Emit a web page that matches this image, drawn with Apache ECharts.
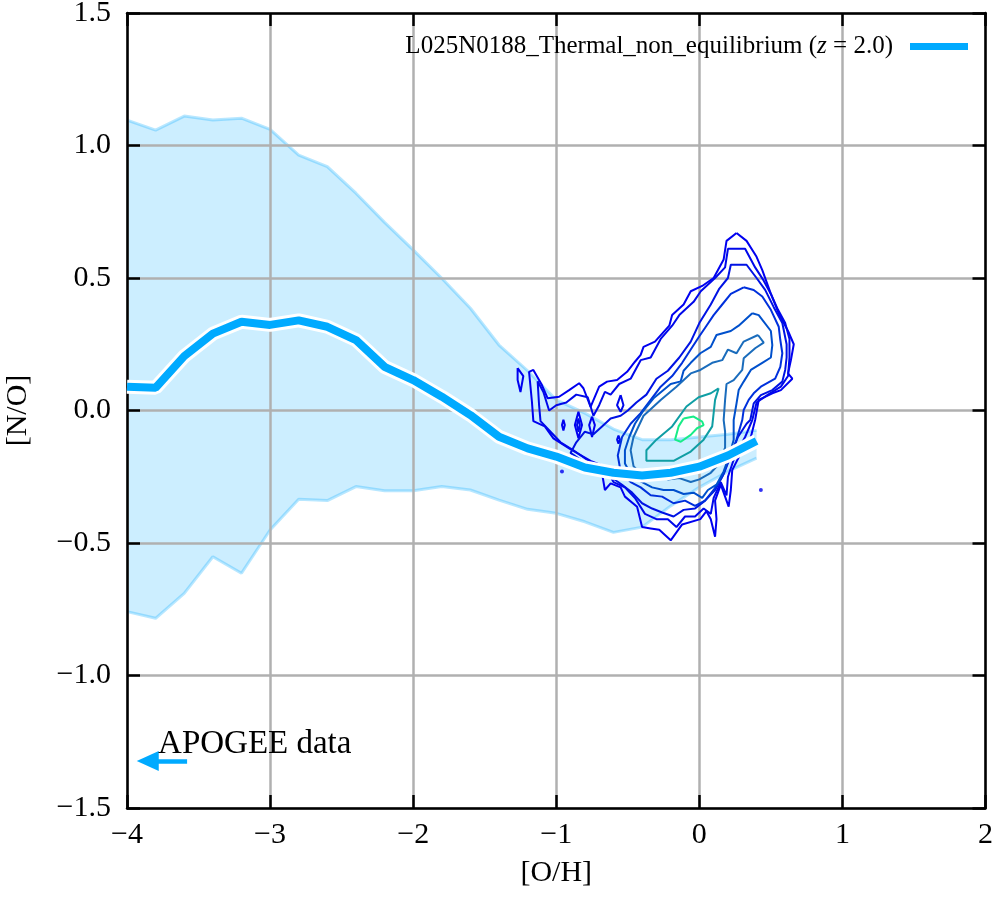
<!DOCTYPE html>
<html><head><meta charset="utf-8">
<script src="https://cdn.jsdelivr.net/npm/echarts@6/dist/echarts.min.js"></script>
<style>html,body{margin:0;padding:0;background:#fff}#c{width:996px;height:900px}</style>
</head><body><div id="c"></div>
<script>
// ---- data ----
const xTicks = [-4, -3, -2, -1, 0, 1, 2];
const yTicks = [-1.5, -1.0, -0.5, 0.0, 0.5, 1.0, 1.5];
const binX = [-4.0,-3.8,-3.6,-3.4,-3.2,-3.0,-2.8,-2.6,-2.4,-2.2,-2.0,-1.8,-1.6,-1.4,-1.2,-1.0,-0.8,-0.6,-0.4,-0.2,0.0,0.2,0.4];
const median = [0.09,0.086,0.205,0.29,0.335,0.323,0.34,0.316,0.266,0.165,0.115,0.052,-0.017,-0.099,-0.143,-0.174,-0.215,-0.235,-0.245,-0.235,-0.212,-0.17,-0.115];
const upper = [1.096,1.058,1.111,1.096,1.103,1.061,0.964,0.920,0.82,0.71,0.606,0.499,0.386,0.247,0.15,0.04,-0.01,-0.07,-0.11,-0.11,-0.10,-0.09,-0.075];
const lower = [-0.759,-0.784,-0.69,-0.552,-0.614,-0.451,-0.335,-0.34,-0.287,-0.303,-0.303,-0.287,-0.30,-0.338,-0.373,-0.388,-0.42,-0.46,-0.44,-0.36,-0.29,-0.23,-0.18];

const contour1 = [[0.26,0.67],[0.19,0.64],[0.17,0.57],[0.10,0.50],[0.02,0.47],[-0.06,0.45],[-0.11,0.40],[-0.19,0.36],[-0.21,0.32],[-0.31,0.26],[-0.39,0.24],[-0.41,0.21],[-0.45,0.184],[-0.505,0.146],[-0.575,0.115],[-0.645,0.109],[-0.70,0.09],[-0.76,0.014],[-0.81,0.084],[-0.84,0.103],[-0.91,0.077],[-0.98,0.052],[-1.06,0.046],[-1.10,0.096],[-1.16,0.153],[-1.19,0.146],[-1.17,0.033],[-1.16,-0.04],[-1.08,-0.06],[-1.02,-0.105],[-0.91,-0.143],[-0.83,-0.168],[-0.76,-0.19],[-0.69,-0.205],[-0.66,-0.30],[-0.62,-0.275],[-0.55,-0.29],[-0.52,-0.325],[-0.435,-0.363],[-0.40,-0.44],[-0.34,-0.445],[-0.28,-0.45],[-0.20,-0.49],[-0.12,-0.43],[0.007,-0.41],[0.05,-0.38],[0.08,-0.41],[0.11,-0.476],[0.12,-0.41],[0.11,-0.34],[0.15,-0.28],[0.205,-0.363],[0.22,-0.30],[0.23,-0.225],[0.30,-0.15],[0.36,-0.10],[0.39,-0.036],[0.415,0.04],[0.51,0.065],[0.57,0.077],[0.65,0.12],[0.62,0.14],[0.64,0.19],[0.66,0.25],[0.62,0.30],[0.56,0.36],[0.50,0.44],[0.44,0.53],[0.40,0.58],[0.33,0.64],[0.26,0.67]];
const contour2 = [[0.26,0.61],[0.20,0.61],[0.18,0.54],[0.11,0.50],[0.01,0.45],[-0.04,0.41],[-0.14,0.36],[-0.19,0.32],[-0.27,0.27],[-0.34,0.20],[-0.41,0.19],[-0.48,0.12],[-0.56,0.10],[-0.62,0.06],[-0.66,0.07],[-0.70,0.02],[-0.74,-0.02],[-0.78,0.05],[-0.86,0.06],[-0.93,0.03],[-1.00,0.02],[-1.05,0.0],[-1.09,0.07],[-1.13,0.11],[-1.12,0.02],[-1.11,-0.04],[-1.04,-0.08],[-0.97,-0.12],[-0.88,-0.15],[-0.80,-0.18],[-0.72,-0.21],[-0.64,-0.23],[-0.60,-0.27],[-0.52,-0.29],[-0.45,-0.33],[-0.38,-0.39],[-0.30,-0.41],[-0.22,-0.41],[-0.16,-0.44],[-0.10,-0.40],[-0.03,-0.40],[0.03,-0.37],[0.08,-0.39],[0.10,-0.33],[0.15,-0.27],[0.19,-0.32],[0.20,-0.25],[0.25,-0.17],[0.32,-0.10],[0.37,-0.036],[0.40,0.03],[0.48,0.06],[0.57,0.09],[0.62,0.13],[0.63,0.20],[0.63,0.27],[0.60,0.33],[0.55,0.38],[0.50,0.44],[0.45,0.49],[0.39,0.54],[0.32,0.61],[0.26,0.61]];
const contour3 = [[0.275,0.55],[0.22,0.55],[0.20,0.50],[0.14,0.46],[0.08,0.40],[0.0,0.33],[-0.06,0.26],[-0.14,0.20],[-0.22,0.15],[-0.30,0.12],[-0.37,0.06],[-0.44,0.03],[-0.50,0.0],[-0.55,-0.02],[-0.62,-0.03],[-0.68,-0.06],[-0.74,-0.09],[-0.80,-0.08],[-0.86,-0.12],[-0.90,-0.16],[-0.82,-0.19],[-0.72,-0.22],[-0.62,-0.25],[-0.54,-0.28],[-0.47,-0.31],[-0.40,-0.35],[-0.33,-0.37],[-0.26,-0.385],[-0.18,-0.40],[-0.11,-0.375],[-0.03,-0.37],[0.04,-0.34],[0.11,-0.30],[0.17,-0.24],[0.22,-0.17],[0.27,-0.10],[0.33,-0.05],[0.356,-0.036],[0.38,0.027],[0.43,0.058],[0.51,0.077],[0.58,0.109],[0.60,0.153],[0.61,0.20],[0.61,0.25],[0.58,0.33],[0.52,0.39],[0.46,0.455],[0.40,0.50],[0.33,0.55],[0.275,0.55]];
const contour4 = [[0.31,0.465],[0.22,0.44],[0.16,0.40],[0.10,0.36],[0.05,0.32],[0.0,0.28],[-0.06,0.23],[-0.12,0.18],[-0.19,0.13],[-0.27,0.09],[-0.34,0.04],[-0.41,-0.01],[-0.48,-0.05],[-0.54,-0.10],[-0.57,-0.17],[-0.55,-0.23],[-0.48,-0.27],[-0.41,-0.29],[-0.34,-0.32],[-0.26,-0.325],[-0.18,-0.35],[-0.10,-0.34],[-0.03,-0.36],[0.04,-0.34],[0.10,-0.30],[0.16,-0.25],[0.21,-0.18],[0.26,-0.11],[0.30,-0.036],[0.31,0.002],[0.345,0.04],[0.38,0.065],[0.43,0.09],[0.53,0.12],[0.566,0.165],[0.58,0.216],[0.566,0.266],[0.555,0.316],[0.50,0.38],[0.44,0.43],[0.38,0.455],[0.31,0.465]];
const contour5 = [[0.37,0.367],[0.275,0.32],[0.22,0.30],[0.12,0.285],[0.08,0.24],[0.007,0.216],[-0.06,0.18],[-0.11,0.15],[-0.13,0.11],[-0.20,0.10],[-0.32,0.046],[-0.39,0.0],[-0.45,-0.05],[-0.49,-0.10],[-0.52,-0.15],[-0.52,-0.20],[-0.47,-0.25],[-0.40,-0.27],[-0.33,-0.29],[-0.25,-0.30],[-0.18,-0.30],[-0.11,-0.315],[-0.04,-0.31],[0.02,-0.33],[0.06,-0.30],[0.12,-0.28],[0.17,-0.23],[0.21,-0.17],[0.24,-0.11],[0.24,-0.036],[0.26,0.027],[0.275,0.077],[0.31,0.109],[0.36,0.153],[0.44,0.18],[0.50,0.20],[0.51,0.247],[0.50,0.30],[0.415,0.36],[0.37,0.367]];
const contour6 = [[0.41,0.285],[0.31,0.26],[0.26,0.216],[0.20,0.23],[0.16,0.19],[0.09,0.18],[0.007,0.153],[-0.06,0.14],[-0.16,0.09],[-0.27,0.04],[-0.39,-0.02],[-0.46,-0.10],[-0.48,-0.15],[-0.46,-0.21],[-0.40,-0.245],[-0.30,-0.25],[-0.22,-0.26],[-0.14,-0.255],[-0.06,-0.27],[0.0,-0.26],[0.08,-0.235],[0.14,-0.20],[0.18,-0.14],[0.18,-0.08],[0.17,-0.036],[0.18,0.04],[0.19,0.10],[0.24,0.115],[0.30,0.153],[0.31,0.197],[0.39,0.235],[0.45,0.256],[0.41,0.285]];
const contour7 = [[0.135,0.084],[0.11,0.04],[0.09,-0.06],[0.03,-0.11],[-0.06,-0.155],[-0.18,-0.19],[-0.27,-0.19],[-0.37,-0.19],[-0.37,-0.15],[-0.30,-0.11],[-0.19,-0.06],[-0.09,0.015],[-0.005,0.05],[0.08,0.065],[0.135,0.084]];
const contour8 = [[-0.11,-0.03],[-0.04,-0.023],[0.02,-0.042],[0.03,-0.055],[-0.016,-0.067],[-0.06,-0.092],[-0.13,-0.118],[-0.17,-0.11],[-0.145,-0.06],[-0.11,-0.03]];
const islandA = [[-1.27,0.16],[-1.23,0.13],[-1.25,0.07],[-1.27,0.115],[-1.27,0.16]];
const islandB = [[-0.845,-0.005],[-0.82,-0.055],[-0.845,-0.105],[-0.87,-0.055],[-0.845,-0.005]];
const islandC = [[-0.845,-0.03],[-0.835,-0.055],[-0.845,-0.08],[-0.855,-0.055],[-0.845,-0.03]];
const islandD = [[-0.75,-0.023],[-0.73,-0.055],[-0.75,-0.10],[-0.77,-0.055],[-0.75,-0.023]];
const islandE = [[-0.95,-0.035],[-0.94,-0.055],[-0.95,-0.075],[-0.96,-0.055],[-0.95,-0.035]];
const islandF = [[-0.55,0.058],[-0.53,0.02],[-0.55,-0.005],[-0.575,0.02],[-0.55,0.058]];
const islandG = [[-0.565,-0.095],[-0.555,-0.11],[-0.565,-0.125],[-0.575,-0.11],[-0.565,-0.095]];
const dots = [[-0.96,-0.23],[0.43,-0.30]];
const contourColors = ['#0000f0','#0008ea','#0012e4','#0030dc','#0050cc','#1a6cbc','#0f9ea4','#18ec88'];
const arrowFrom = [-3.58, -1.323];
const arrowTo = [-3.855, -1.323];
const apogeeLabelPos = [-3.783, -1.258];

const MED = 'L025N0188_Thermal_non_equilibrium (z = 2.0)';
const SERIF = 'Liberation Serif';

const fmtMinus = (v, d) => (v < 0 ? '\u2212' : '') + Math.abs(v).toFixed(d);

function contourSeries(data, color) {
  return { type: 'line', data: data, symbol: 'none', silent: true, z: 3,
    lineStyle: { width: 2, color: color }, itemStyle: { color: color } };
}

const chart = echarts.init(document.getElementById('c'));
const axisCommon = {
  type: 'value', axisLine: { show: true, onZero: false, lineStyle: { color: '#000', width: 2.5 } },
  axisTick: { show: true, inside: true, length: 13, lineStyle: { color: '#000', width: 2.5 } }
};
const option = {
  animation: false,
  backgroundColor: '#fff',
  grid: { left: 127, right: 10.5, top: 13, bottom: 92, containLabel: false, outerBoundsMode: 'none' },
  xAxis: [
    Object.assign({}, axisCommon, { min: xTicks[0], max: xTicks[xTicks.length - 1], interval: 1, position: 'bottom',
      name: '[O/H]', nameLocation: 'middle', nameGap: 50,
      nameTextStyle: { fontFamily: SERIF, fontSize: 30, color: '#000' },
      axisLabel: { margin: 12, fontFamily: SERIF, fontSize: 30, color: '#000', formatter: v => fmtMinus(v, 0) },
      splitLine: { show: true, lineStyle: { color: '#b0b0b0', width: 2.5 } } }),
    Object.assign({}, axisCommon, { min: xTicks[0], max: xTicks[xTicks.length - 1], interval: 1, position: 'top',
      axisLabel: { show: false }, splitLine: { show: false } })
  ],
  yAxis: [
    Object.assign({}, axisCommon, { min: yTicks[0], max: yTicks[yTicks.length - 1], interval: 0.5, position: 'left',
      name: '[N/O]', nameLocation: 'middle', nameGap: 94, nameRotate: 90,
      nameTextStyle: { fontFamily: SERIF, fontSize: 30, color: '#000' },
      axisLabel: { margin: 16, fontFamily: SERIF, fontSize: 30, color: '#000', formatter: v => fmtMinus(v, 1) },
      splitLine: { show: true, lineStyle: { color: '#b0b0b0', width: 2.5 } } }),
    Object.assign({}, axisCommon, { min: yTicks[0], max: yTicks[yTicks.length - 1], interval: 0.5, position: 'right',
      axisLabel: { show: false }, splitLine: { show: false } })
  ],
  legend: {
    data: [{ name: MED, icon: 'rect' }],
    right: 28, top: 34, padding: 0, align: 'right', selectedMode: false,
    itemWidth: 58, itemHeight: 7,
    formatter: () => '{a|L025N0188_Thermal_non_equilibrium (}{i|z}{b| = 2.0)}',
    textStyle: { rich: {
      a: { fontFamily: SERIF, fontSize: 25, color: '#000', lineHeight: 28 },
      i: { fontFamily: SERIF, fontSize: 25, fontStyle: 'italic', color: '#000', lineHeight: 28 },
      b: { fontFamily: SERIF, fontSize: 25, color: '#000', lineHeight: 28, padding: [0, 12, 0, 0] }
    } }
  },
  series: [
    { type: 'custom', name: 'band', z: -1, silent: true, data: [[binX[0], upper[0]]],
      encode: { x: 0, y: 1 },
      renderItem: (params, api) => {
        const pts = [];
        binX.forEach((x, i) => pts.push(api.coord([x, upper[i]])));
        for (let i = binX.length - 1; i >= 0; i--) pts.push(api.coord([binX[i], lower[i]]));
        return { type: 'polygon', shape: { points: pts }, style: { fill: 'rgba(0,170,255,0.2)' } };
      } },
    { type: 'line', name: 'bandUpper', z: -1, silent: true, symbol: 'none',
      data: binX.map((x, i) => [x, upper[i]]), lineStyle: { color: 'rgba(0,170,255,0.28)', width: 3 } },
    { type: 'line', name: 'bandLower', z: -1, silent: true, symbol: 'none',
      data: binX.map((x, i) => [x, lower[i]]), lineStyle: { color: 'rgba(0,170,255,0.28)', width: 3 } },
    contourSeries(contour1, contourColors[0]),
    contourSeries(islandA, contourColors[0]),
    contourSeries(islandB, contourColors[0]),
    contourSeries(islandC, contourColors[1]),
    contourSeries(islandD, contourColors[0]),
    contourSeries(islandE, contourColors[0]),
    contourSeries(islandF, contourColors[1]),
    contourSeries(islandG, contourColors[1]),
    contourSeries(contour2, contourColors[1]),
    contourSeries(contour3, contourColors[2]),
    contourSeries(contour4, contourColors[3]),
    contourSeries(contour5, contourColors[4]),
    contourSeries(contour6, contourColors[5]),
    contourSeries(contour7, contourColors[6]),
    contourSeries(contour8, contourColors[7]),
    { type: 'scatter', name: 'dots', silent: true, z: 3, symbolSize: 4, data: dots, itemStyle: { color: contourColors[0] } },
    { type: 'line', name: 'medianOutline', z: 5, silent: true, symbol: 'none',
      data: binX.map((x, i) => [x, median[i]]), lineStyle: { color: '#fff', width: 14 } },
    { type: 'line', name: MED, z: 6, silent: true, symbol: 'none', color: '#00aaff',
      itemStyle: { color: '#00aaff' },
      data: binX.map((x, i) => [x, median[i]]), lineStyle: { color: '#00aaff', width: 8 } },
    { type: 'line', name: 'apogeeArrow', z: 6, silent: true, symbol: 'none', data: [],
      markLine: { silent: true, animation: false, symbol: ['none', 'triangle'], symbolSize: [20, 22],
        lineStyle: { color: '#00aaff', width: 4.5, type: 'solid', opacity: 1 }, itemStyle: { color: '#00aaff' },
        label: { show: false }, emphasis: { disabled: true },
        data: [[{ coord: arrowFrom }, { coord: arrowTo }]] } }
  ]
};
chart.setOption(option);
const p = chart.convertToPixel({ gridIndex: 0 }, apogeeLabelPos);
chart.setOption({ graphic: [{ type: 'text', x: p[0], y: p[1], z: 10, silent: true,
  style: { text: 'APOGEE data', fontFamily: SERIF, fontSize: 33, fill: '#000', verticalAlign: 'middle', align: 'left' } }] });
</script></body></html>
